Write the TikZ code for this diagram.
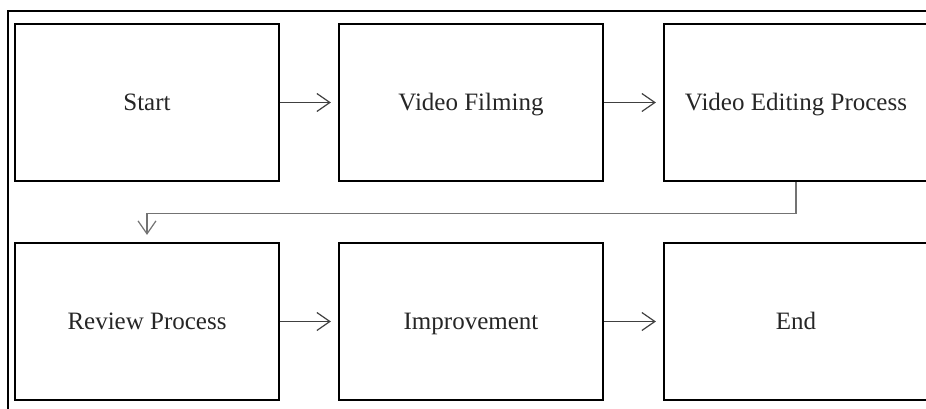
\documentclass[tikz,border=0pt]{standalone}
\usepackage{fontspec}
\setmainfont{Liberation Serif}
\usetikzlibrary{arrows.meta}
\begin{document}
\begin{tikzpicture}[x=1pt,y=-1pt,
  box/.style={draw=black, line width=2.2pt, minimum width=264pt, minimum height=157pt,
    inner sep=0pt, text height=20pt, text depth=5pt,
    font=\fontsize{25}{29}\selectfont, text=black!85},
  conn/.style={draw=black!75, line width=1.2pt,
    -{Straight Barb[length=13pt,width=18pt,line width=1.2pt]}, shorten >=7pt},
  elbow/.style={draw=black!55, line width=1.6pt,
    -{Straight Barb[length=13pt,width=18pt,line width=1.2pt]}, shorten >=7pt}]
\useasboundingbox (0,0) rectangle (926,408);
\clip (0,0) rectangle (926,408);
\draw[line width=2pt] (8,420) -- (8,11) -- (940,11);
\node[box] (start)   at (147,102.5) {Start};
\node[box] (film)    at (471,102.5) {Video Filming};
\node[box] (edit)    at (796,102.5) {Video Editing Process};
\node[box] (review)  at (147,321.5) {Review Process};
\node[box] (improve) at (471,321.5) {Improvement};
\node[box] (end)     at (796,321.5) {End};
\draw[conn] (start) -- (film);
\draw[conn] (film) -- (edit);
\draw[conn] (review) -- (improve);
\draw[conn] (improve) -- (end);
\draw[elbow] (edit.south) -- ++(0,31.5) -| (review.north);
\end{tikzpicture}
\end{document}
